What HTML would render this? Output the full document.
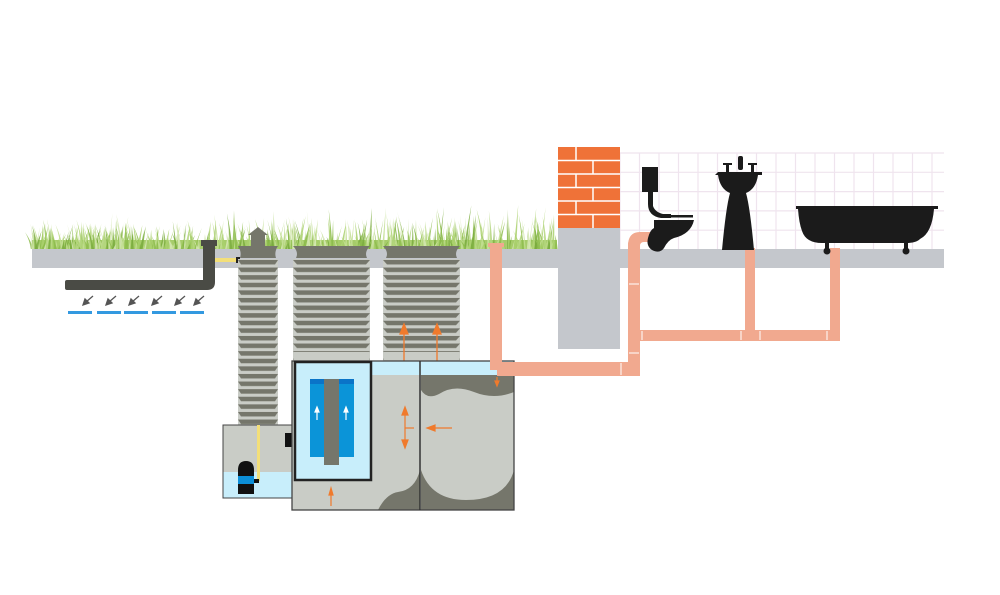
<!DOCTYPE html>
<html><head><meta charset="utf-8"><style>html,body{margin:0;padding:0;background:#fff}svg{display:block}</style></head>
<body>
<svg id="s" width="1000" height="595" viewBox="0 0 1000 595" xmlns="http://www.w3.org/2000/svg">
<defs>
<pattern id="rib1" x="238" y="259" width="40" height="7.6" patternUnits="userSpaceOnUse"><rect width="40" height="7.6" fill="#c9ccc6"/><polygon points="0,1 40,1 37,5.5 3,5.5" fill="#75766b"/></pattern>
<pattern id="rib2" x="293" y="259" width="77" height="7.6" patternUnits="userSpaceOnUse"><rect width="77" height="7.6" fill="#c9ccc6"/><polygon points="0,1 77,1 73,5.5 4,5.5" fill="#75766b"/></pattern>
<pattern id="rib3" x="383" y="259" width="77" height="7.6" patternUnits="userSpaceOnUse"><rect width="77" height="7.6" fill="#c9ccc6"/><polygon points="0,1 77,1 73,5.5 4,5.5" fill="#75766b"/></pattern>
</defs>
<rect x="620" y="153" width="324" height="96" fill="#fff"/>
<g id="tiles" stroke="#efe4ee" stroke-width="1.2"></g>
<g id="grass"></g>
<rect x="32" y="249" width="912" height="19" fill="#c4c7cc"/>
<rect x="558" y="147" width="62" height="81" fill="#ef7238"/>
<g stroke="#fff" stroke-width="1.5">
<line x1="558" y1="160.5" x2="620" y2="160.5"/><line x1="558" y1="174" x2="620" y2="174"/><line x1="558" y1="187.5" x2="620" y2="187.5"/><line x1="558" y1="201" x2="620" y2="201"/><line x1="558" y1="214.5" x2="620" y2="214.5"/>
<line x1="576" y1="147" x2="576" y2="160.5"/><line x1="593" y1="160.5" x2="593" y2="174"/><line x1="576" y1="174" x2="576" y2="187.5"/><line x1="593" y1="187.5" x2="593" y2="201"/><line x1="576" y1="201" x2="576" y2="214.5"/><line x1="593" y1="214.5" x2="593" y2="228"/>
</g>
<rect x="558" y="228" width="62" height="121" fill="#c4c7cc"/>
<rect x="65" y="280" width="140" height="10" rx="2" fill="#4a4b45"/>
<path d="M203,245 h12 v37 q0,8 -8,8 h-10 v-10 h6 z" fill="#4a4b45"/>
<rect x="201" y="240" width="16" height="6" fill="#4a4b45"/>
<rect x="215" y="258" width="25" height="4" fill="#f3df79"/>
<rect x="236" y="257" width="4" height="6" fill="#222"/>
<g stroke="#555" stroke-width="1.3" fill="#555">
<line x1="93" y1="296" x2="86" y2="302"/><polygon points="83,305 85,299 89,303"/>
<line x1="116" y1="296" x2="109" y2="302"/><polygon points="106,305 108,299 112,303"/>
<line x1="139" y1="296" x2="132" y2="302"/><polygon points="129,305 131,299 135,303"/>
<line x1="162" y1="296" x2="155" y2="302"/><polygon points="152,305 154,299 158,303"/>
<line x1="185" y1="296" x2="178" y2="302"/><polygon points="175,305 177,299 181,303"/>
<line x1="204" y1="296" x2="197" y2="302"/><polygon points="194,305 196,299 200,303"/>
</g>
<g fill="#3399e0"><rect x="68" y="311" width="24" height="3"/><rect x="97" y="311" width="24" height="3"/><rect x="124" y="311" width="24" height="3"/><rect x="152" y="311" width="24" height="3"/><rect x="180" y="311" width="24" height="3"/></g>
<rect x="238" y="259" width="40" height="167" fill="url(#rib1)"/>
<path d="M238,246 h40 q-4,6 -2,12 h-36 q2,-6 -2,-12z" fill="#75766b"/>
<rect x="251" y="234" width="14" height="13" fill="#75766b"/>
<polygon points="248,235 258,227 268,235" fill="#75766b"/>
<rect x="293" y="259" width="77" height="102" fill="url(#rib2)"/>
<path d="M293,246 h77 q-6,6 -3,12 h-71 q3,-6 -3,-12z" fill="#75766b"/>
<rect x="383" y="259" width="77" height="102" fill="url(#rib3)"/>
<path d="M383,246 h77 q-6,6 -3,12 h-71 q3,-6 -3,-12z" fill="#75766b"/>
<rect x="294" y="352" width="75" height="9" fill="#c9ccc6"/>
<rect x="384" y="352" width="75" height="9" fill="#c9ccc6"/>
<g fill="#f07a2c" stroke="#f07a2c" stroke-width="1.3">
<line x1="404" y1="361" x2="404" y2="332"/><polygon points="400,334 404,324 408,334"/>
<line x1="437" y1="361" x2="437" y2="332"/><polygon points="433,334 437,324 441,334"/>
</g>
<rect x="223" y="425" width="70" height="73" fill="#c9ccc6" stroke="#444" stroke-width="1"/>
<rect x="223.5" y="472" width="69" height="25.5" fill="#c8eefb"/>
<rect x="257" y="425" width="3" height="56" fill="#f3df79"/>
<path d="M238,480 v-10 q0,-9 8,-9 q8,0 8,9 v24 h-16z" fill="#111"/>
<rect x="238" y="476" width="16" height="8" fill="#0c8fd8"/>
<rect x="254" y="479" width="5" height="4" fill="#111"/>
<rect x="285" y="433" width="11" height="14" fill="#111"/>
<rect x="292" y="361" width="222" height="149" fill="#c9ccc6"/>
<rect x="372" y="361" width="142" height="14" fill="#c8eefb"/>
<path d="M421,375 h93 v17 q-20,8 -40,0 q-20,-8 -35,2 q-12,6 -18,-4z" fill="#75766b"/>
<path d="M421,470 q10,30 45,30 q40,0 48,-30 v40 h-93z" fill="#75766b"/>
<path d="M420,470 q-5,20 -22,22 q-12,2 -20,18 h42z" fill="#75766b"/>
<rect x="292" y="361" width="222" height="149" fill="none" stroke="#444" stroke-width="1.3"/>
<line x1="420" y1="361" x2="420" y2="510" stroke="#333" stroke-width="1.5"/>
<rect x="295" y="362" width="76" height="118" fill="#c8eefb" stroke="#222" stroke-width="2.5"/>
<rect x="310" y="379" width="44" height="78" fill="#0b94d8"/>
<rect x="310" y="379" width="44" height="5" fill="#0a74c8"/>
<rect x="324" y="379" width="15" height="86" fill="#75766b"/>
<g fill="#fff" stroke="#fff" stroke-width="1.2"><line x1="317" y1="420" x2="317" y2="410"/><polygon points="315,412 317,407 319,412"/><line x1="346" y1="420" x2="346" y2="410"/><polygon points="344,412 346,407 348,412"/></g>
<g fill="#f07a2c" stroke="#f07a2c" stroke-width="1.2">
<line x1="405" y1="412" x2="405" y2="444"/><polygon points="402,415 405,407 408,415"/><polygon points="402,440 405,448 408,440"/><line x1="405" y1="428" x2="414" y2="428"/>
<line x1="430" y1="428" x2="452" y2="428"/><polygon points="435,425 427,428 435,431"/>
<line x1="331" y1="506" x2="331" y2="494"/><polygon points="329,495 331,488 333,495"/>
<line x1="497" y1="377" x2="497" y2="383"/><polygon points="495,381 497,386 499,381"/>
</g>
<g fill="#f1a98f">
<rect x="490" y="243" width="12" height="127"/>
<rect x="488" y="243" width="16" height="4"/>
<rect x="497" y="362" width="143" height="14"/>
<rect x="628" y="240" width="12" height="136" rx="4"/>
<path d="M628,246 q0,-14 12,-14 h14 v10 h-10 q-4,0 -4,4z"/>
<rect x="640" y="330" width="200" height="11"/>
<rect x="745" y="248" width="10" height="90"/>
<rect x="830" y="248" width="10" height="90"/>
<path d="M829,330 h11 v4 q0,7 -7,7 h-4z"/>
</g>
<g stroke="#fff" stroke-width="1"><line x1="629" y1="284" x2="639" y2="284"/><line x1="629" y1="353" x2="639" y2="353"/><line x1="741" y1="331" x2="741" y2="340"/><line x1="760" y1="331" x2="760" y2="340"/><line x1="827" y1="331" x2="827" y2="340"/><line x1="621" y1="363" x2="621" y2="375"/><line x1="642" y1="331" x2="642" y2="340"/></g>
<g fill="#1b1b1b">
<rect x="642" y="167" width="16" height="25"/>
<path d="M648,192 h5 v14 q2,6 10,8 h8 v4 h-10 q-13,-2 -13,-14z"/>
<rect x="660" y="215" width="33" height="2.5"/>
<path d="M654,220 h40 q-3,14 -20,18 q-6,2 -10,10 q-4,6 -12,2 q-6,-4 -4,-12 q2,-8 6,-10z"/>
</g>
<g fill="#1b1b1b">
<path d="M718,172 h44 v3 h-4 q-2,14 -12,18 q4,14 8,57 h-32 q4,-43 8,-57 q-10,-4 -12,-18 h-3z"/>
<rect x="726" y="163" width="3" height="9"/><rect x="723" y="163" width="9" height="2"/>
<rect x="751" y="163" width="3" height="9"/><rect x="748" y="163" width="9" height="2"/>
<rect x="738" y="156" width="5" height="14" rx="2"/>
</g>
<g fill="#1b1b1b">
<path d="M796,206 h142 v3 h-4 q-2,24 -14,30 q-4,4 -14,4 h-84 q-16,0 -20,-12 q-3,-8 -4,-22 h-2z"/>
<circle cx="827" cy="251" r="3.5"/><rect x="825" y="242" width="4" height="8"/>
<circle cx="906" cy="251" r="3.5"/><rect x="904" y="242" width="4" height="8"/>
</g>
</svg>
<script>
var NS="http://www.w3.org/2000/svg";
var t=document.getElementById('tiles');
for(var x=620;x<=944;x+=19.5){var l=document.createElementNS(NS,'line');l.setAttribute('x1',x);l.setAttribute('x2',x);l.setAttribute('y1',153);l.setAttribute('y2',249);t.appendChild(l);}
for(var y=153;y<=249;y+=19.3){var l=document.createElementNS(NS,'line');l.setAttribute('y1',y);l.setAttribute('y2',y);l.setAttribute('x1',620);l.setAttribute('x2',944);t.appendChild(l);}
var g=document.getElementById('grass');
var r=document.createElementNS(NS,'rect');r.setAttribute('x',32);r.setAttribute('y',240);r.setAttribute('width',525);r.setAttribute('height',9);r.setAttribute('fill','#a6cc6a');g.appendChild(r);
var seed=7;function rnd(){seed=(seed*9301+49297)%233280;return seed/233280;}
var cols=['#8dbc4c','#a9d06c','#c2de92','#7aab3e','#b4d67e','#d6e8b4'];
for(var i=0;i<520;i++){var x=32+rnd()*525;var base=18+ (x-32)/525*10;var h=8+rnd()*base+ (rnd()<0.15?10:0);var lean=(rnd()-0.5)*14;var w=0.6+rnd()*1.0;
var p=document.createElementNS(NS,'path');p.setAttribute('d','M'+(x-w)+',249 Q'+(x+lean/3)+','+(249-h/2)+' '+(x+lean)+','+(249-h)+' Q'+(x+lean/3+w)+','+(249-h/2)+' '+(x+w)+',249z');
p.setAttribute('fill',cols[Math.floor(rnd()*6)]);p.setAttribute('opacity',0.85);g.appendChild(p);}
</script>
</body></html>
